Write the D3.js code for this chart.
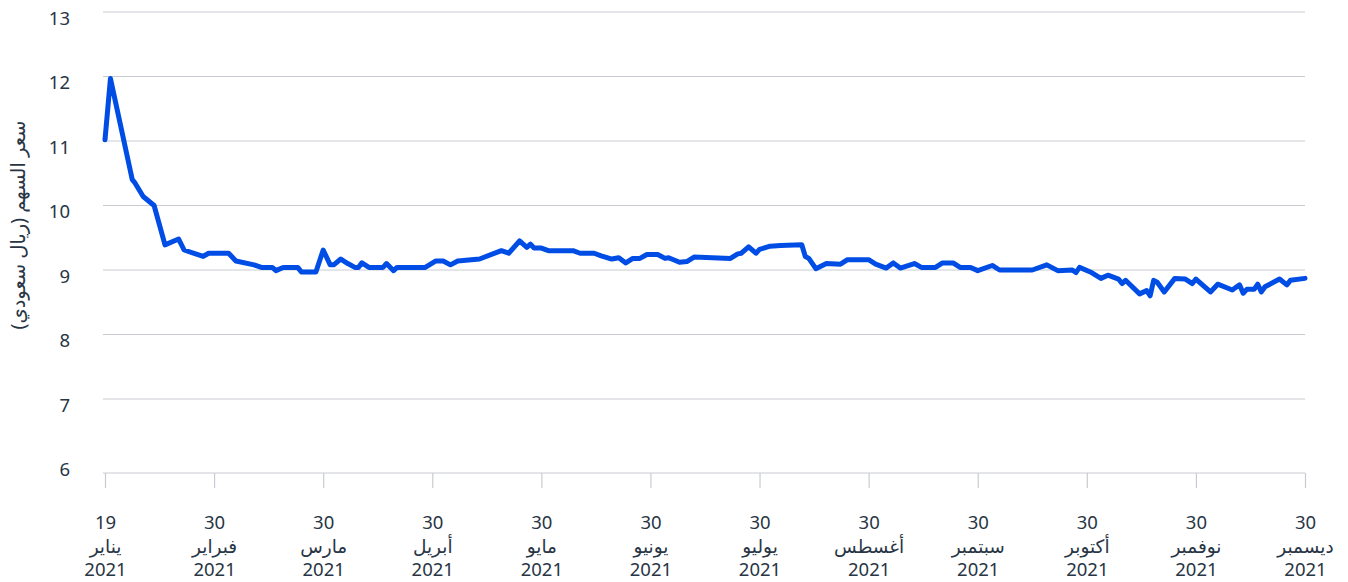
<!DOCTYPE html>
<html>
<head>
<meta charset="utf-8">
<script src="https://cdn.jsdelivr.net/npm/d3@7"></script>
<style>
  html, body { margin: 0; padding: 0; background: #fff; }
  svg text { font-family: "Noto Sans", "DejaVu Sans", sans-serif; fill: #283545; }
</style>
</head>
<body>
<svg id="chart" width="1348" height="582"></svg>
<script>
// ----- Data -----------------------------------------------------------------
const tickDates = ["2021-01-19", "2021-02-28", "2021-03-30", "2021-04-30", "2021-05-30", "2021-06-30",
                   "2021-07-30", "2021-08-30", "2021-09-30", "2021-10-30", "2021-11-30", "2021-12-30"];
const tickDays = ["19", "30", "30", "30", "30", "30", "30", "30", "30", "30", "30", "30"];
const tickMonths = ["يناير", "فبراير", "مارس", "أبريل", "مايو", "يونيو",
                    "يوليو", "أغسطس", "سبتمبر", "أكتوبر", "نوفمبر", "ديسمبر"];
const tickYear = "2021";
const yTicks = [6, 7, 8, 9, 10, 11, 12, 13];
const yTitle = "سعر السهم (ريال سعودي)";

// share price (date, SAR)
const prices = [
  ["2021-01-19", 11.02], ["2021-01-21", 11.97], ["2021-01-29", 10.40], ["2021-01-30", 10.35],
  ["2021-02-02", 10.14], ["2021-02-06", 10.00], ["2021-02-10", 9.39], ["2021-02-15", 9.48],
  ["2021-02-17", 9.31], ["2021-02-24", 9.21], ["2021-02-26", 9.26],
  ["2021-03-04", 9.26], ["2021-03-06", 9.14], ["2021-03-11", 9.08], ["2021-03-13", 9.04],
  ["2021-03-16", 9.04], ["2021-03-17", 8.99], ["2021-03-19", 9.04], ["2021-03-23", 9.04],
  ["2021-03-24", 8.97], ["2021-03-28", 8.97], ["2021-03-30", 9.31],
  ["2021-04-01", 9.08], ["2021-04-02", 9.08], ["2021-04-04", 9.17], ["2021-04-06", 9.10],
  ["2021-04-08", 9.04], ["2021-04-09", 9.04], ["2021-04-10", 9.11], ["2021-04-12", 9.04],
  ["2021-04-16", 9.04], ["2021-04-17", 9.10], ["2021-04-19", 8.99], ["2021-04-20", 9.04],
  ["2021-04-28", 9.04],
  ["2021-05-01", 9.14], ["2021-05-03", 9.14], ["2021-05-05", 9.08], ["2021-05-07", 9.14],
  ["2021-05-13", 9.17], ["2021-05-19", 9.30], ["2021-05-21", 9.26], ["2021-05-24", 9.45],
  ["2021-05-26", 9.35], ["2021-05-27", 9.40], ["2021-05-28", 9.34], ["2021-05-30", 9.34],
  ["2021-06-01", 9.30], ["2021-06-08", 9.30], ["2021-06-10", 9.26], ["2021-06-14", 9.26],
  ["2021-06-16", 9.22], ["2021-06-19", 9.17], ["2021-06-21", 9.19], ["2021-06-23", 9.11],
  ["2021-06-25", 9.18], ["2021-06-27", 9.18], ["2021-06-29", 9.24],
  ["2021-07-02", 9.24], ["2021-07-04", 9.18], ["2021-07-05", 9.19], ["2021-07-08", 9.12],
  ["2021-07-10", 9.13], ["2021-07-12", 9.20], ["2021-07-22", 9.18], ["2021-07-24", 9.25],
  ["2021-07-25", 9.26], ["2021-07-27", 9.36], ["2021-07-29", 9.26], ["2021-07-30", 9.32],
  ["2021-08-02", 9.37], ["2021-08-05", 9.38], ["2021-08-11", 9.39], ["2021-08-12", 9.21],
  ["2021-08-13", 9.18], ["2021-08-15", 9.02], ["2021-08-18", 9.10], ["2021-08-22", 9.09],
  ["2021-08-24", 9.16], ["2021-08-30", 9.16],
  ["2021-09-01", 9.09], ["2021-09-04", 9.03], ["2021-09-06", 9.11], ["2021-09-08", 9.03],
  ["2021-09-12", 9.10], ["2021-09-14", 9.04], ["2021-09-18", 9.04], ["2021-09-20", 9.11],
  ["2021-09-23", 9.11], ["2021-09-25", 9.04], ["2021-09-28", 9.04], ["2021-09-30", 8.99],
  ["2021-10-04", 9.07], ["2021-10-06", 9.00], ["2021-10-15", 9.00], ["2021-10-19", 9.08],
  ["2021-10-22", 8.99], ["2021-10-26", 9.00], ["2021-10-27", 8.96], ["2021-10-28", 9.04],
  ["2021-10-31", 8.97],
  ["2021-11-03", 8.87], ["2021-11-05", 8.92], ["2021-11-08", 8.86], ["2021-11-09", 8.79],
  ["2021-11-10", 8.84], ["2021-11-14", 8.63], ["2021-11-16", 8.68], ["2021-11-17", 8.60],
  ["2021-11-18", 8.84], ["2021-11-19", 8.81], ["2021-11-21", 8.66], ["2021-11-24", 8.87],
  ["2021-11-27", 8.86], ["2021-11-29", 8.79], ["2021-11-30", 8.86],
  ["2021-12-04", 8.66], ["2021-12-06", 8.78], ["2021-12-10", 8.69], ["2021-12-12", 8.77],
  ["2021-12-13", 8.64], ["2021-12-14", 8.70], ["2021-12-16", 8.70], ["2021-12-17", 8.78],
  ["2021-12-18", 8.66], ["2021-12-19", 8.74], ["2021-12-23", 8.86], ["2021-12-25", 8.77],
  ["2021-12-26", 8.84], ["2021-12-30", 8.87]
];

// ----- Layout -----------------------------------------------------------------
const plotLeft = 105, plotRight = 1305, plotTop = 12;
const parse = d3.timeParse("%Y-%m-%d");
const svg = d3.select("#chart");

// months are drawn at equal spacing, so map each tick date to an even slot
const tickD = tickDates.map(parse);
const x = d3.scaleTime()
  .domain(tickD)
  .range(tickD.map((_, i) => plotLeft + i * (plotRight - plotLeft) / (tickD.length - 1)));

const y = d3.scaleLinear().domain([6, 13]).range([463.5, plotTop]);
const baseY = y(6) + 9.5;
const gridColor = "#c8ccd2";

// gridlines (7..13)
svg.append("g")
  .selectAll("line")
  .data(yTicks.filter((v) => v > 6))
  .join("line")
  .attr("x1", plotLeft - 2).attr("x2", plotRight)
  .attr("y1", (d) => y(d)).attr("y2", (d) => y(d))
  .attr("stroke", gridColor).attr("stroke-width", 1);

// y labels
const yAxis = svg.append("g")
  .attr("transform", "translate(70,0)")
  .call(d3.axisLeft(y).tickValues(yTicks).tickSize(0).tickPadding(0).tickFormat(d3.format("d")));
yAxis.select(".domain").remove();
yAxis.selectAll("text")
  .attr("dy", "0.32em")
  .attr("transform", "translate(0,6.5)")
  .style("font-size", "18.5px")
  .style("font-family", "\"Noto Sans\", \"DejaVu Sans\", sans-serif")
  .attr("fill", "#283545");

// y title
svg.append("text")
  .attr("transform", "translate(25,225) rotate(-90)")
  .attr("text-anchor", "middle")
  .style("font-size", "19.5px")
  .text(yTitle);

// x axis
svg.append("line")
  .attr("x1", plotLeft - 2).attr("x2", plotRight)
  .attr("y1", baseY).attr("y2", baseY)
  .attr("stroke", gridColor).attr("stroke-width", 1.2);

const xAxis = svg.append("g")
  .attr("transform", `translate(0,${baseY})`)
  .call(d3.axisBottom(x).tickValues(tickD).tickSize(15).tickFormat(() => ""));
xAxis.select(".domain").remove();
xAxis.selectAll(".tick line").attr("stroke", gridColor).attr("stroke-width", 1.2);

const lbl = xAxis.selectAll(".tick text")
  .attr("y", 0).attr("dy", null)
  .style("font-size", "18.5px")
  .style("font-family", "\"Noto Sans\", \"DejaVu Sans\", sans-serif")
  .attr("fill", "#283545")
  .attr("text-anchor", "middle");
lbl.each(function (d, i) {
  const t = d3.select(this);
  t.append("tspan").attr("x", 0).attr("y", 56).text(tickDays[i]);
  t.append("tspan").attr("x", 0).attr("y", 80).text(tickMonths[i]);
  t.append("tspan").attr("x", 0).attr("y", 103).text(tickYear);
});

// price line
const line = d3.line()
  .x((d) => x(parse(d[0])))
  .y((d) => y(d[1]));

svg.append("path")
  .datum(prices)
  .attr("d", line)
  .attr("fill", "none")
  .attr("stroke", "#004de6")
  .attr("stroke-width", 5)
  .attr("stroke-linejoin", "round")
  .attr("stroke-linecap", "round");
</script>
</body>
</html>
